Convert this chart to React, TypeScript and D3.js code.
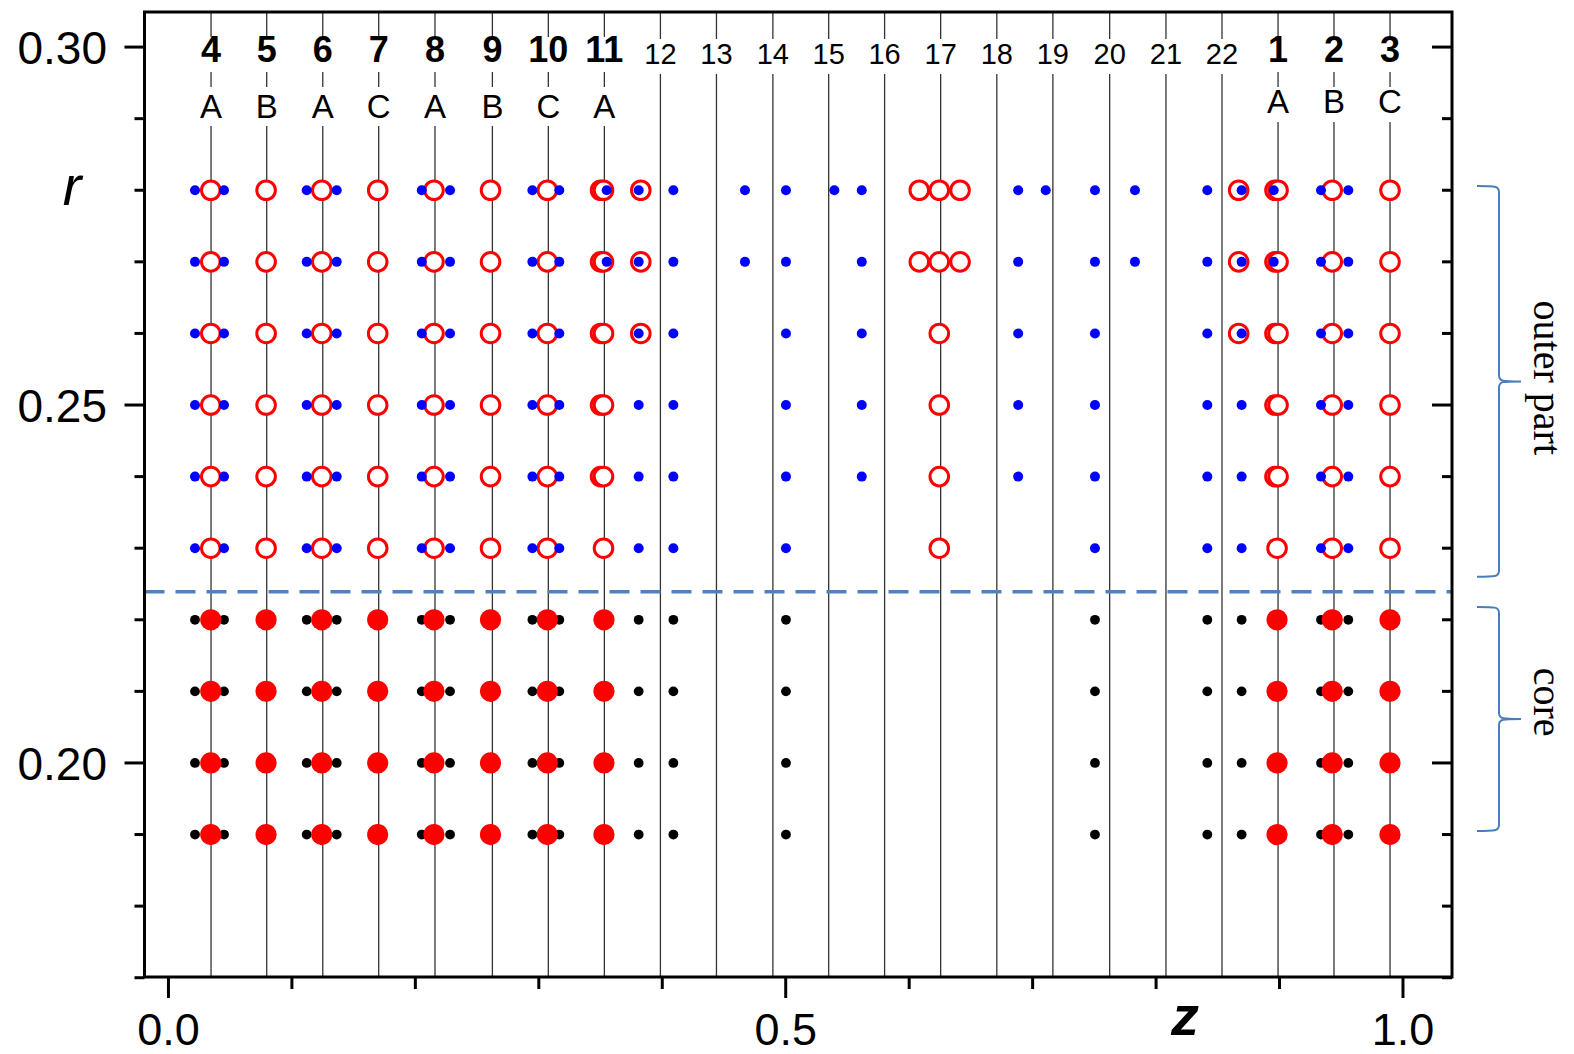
import React from 'react';
import * as d3 from 'd3';

const W = 1574;
const H = 1054;

// axis domains
const zDomain = [-0.0194, 1.0397];
const rDomain = [0.1701, 0.3049];

// tick values
const zMinorTicks = [0, 0.1, 0.2, 0.3, 0.4, 0.5, 0.6, 0.7, 0.8, 0.9, 1.0];
const zMajorTicks = [0, 0.5, 1.0];
const zTickLabels = ['0.0', '0.5', '1.0'];
const rMinorTicks = [0.17, 0.18, 0.19, 0.2, 0.21, 0.22, 0.23, 0.24, 0.25, 0.26, 0.27, 0.28, 0.29, 0.3];
const rMajorTicks = [0.2, 0.25, 0.3];
const rTickLabels = ['0.20', '0.25', '0.30'];

// vertical reference lines (cross-section planes)
const lineZ = [0.0345, 0.0796, 0.125, 0.1703, 0.2159, 0.2624, 0.3077, 0.3531, 0.3985, 0.4439, 0.4896,
  0.5348, 0.5801, 0.6255, 0.671, 0.7164, 0.7624, 0.808, 0.8534, 0.8988, 0.9441, 0.9895];
const lineNumbers = ['4', '5', '6', '7', '8', '9', '10', '11', '12', '13', '14', '15', '16', '17', '18',
  '19', '20', '21', '22', '1', '2', '3'];
const lineLetters = ['A', 'B', 'A', 'C', 'A', 'B', 'C', 'A', '', '', '', '', '', '', '', '', '', '', '', 'A', 'B', 'C'];

// rows
const outerR = [0.28, 0.27, 0.26, 0.25, 0.24, 0.23];
const coreR = [0.22, 0.21, 0.2, 0.19];

// blue dots (outer part)
const blueZ028 = [0.0215, 0.045, 0.112, 0.1363, 0.2052, 0.2281, 0.2948, 0.3166, 0.355, 0.3809, 0.409, 0.467,
  0.5002, 0.5394, 0.5616, 0.6883, 0.7106, 0.7505, 0.7829, 0.8415, 0.8693, 0.8953, 0.9336, 0.9557];
const blueZ027 = [0.0215, 0.045, 0.112, 0.1363, 0.2052, 0.2281, 0.2948, 0.3166, 0.355, 0.3809, 0.409, 0.467,
  0.5002, 0.5616, 0.6883, 0.7505, 0.7829, 0.8415, 0.8693, 0.8953, 0.9336, 0.9557];
const blueZ026 = [0.0215, 0.045, 0.112, 0.1363, 0.2052, 0.2281, 0.2948, 0.3166, 0.3809, 0.409, 0.5002, 0.5616,
  0.6883, 0.7505, 0.8415, 0.8693, 0.9336, 0.9557];
const blueZ025 = [0.0215, 0.045, 0.112, 0.1363, 0.2052, 0.2281, 0.2948, 0.3166, 0.3809, 0.409, 0.5002, 0.5616,
  0.6883, 0.7505, 0.8415, 0.8693, 0.9336, 0.9557];
const blueZ024 = [0.0215, 0.045, 0.112, 0.1363, 0.2052, 0.2281, 0.2948, 0.3166, 0.3809, 0.409, 0.5002, 0.5616,
  0.6883, 0.7505, 0.8415, 0.8693, 0.9336, 0.9557];
const blueZ023 = [0.0215, 0.045, 0.112, 0.1363, 0.2052, 0.2281, 0.2948, 0.3166, 0.3809, 0.409, 0.5002, 0.7505,
  0.8415, 0.8693, 0.9336, 0.9557];

// red open circles (outer part)
const openZ028 = [0.0343, 0.0791, 0.1242, 0.1695, 0.2151, 0.2609, 0.3069, 0.35, 0.3524, 0.3826, 0.6082, 0.6244,
  0.6412, 0.8669, 0.8963, 0.8988, 0.9427, 0.9895];
const openZ027 = [0.0343, 0.0791, 0.1242, 0.1695, 0.2151, 0.2609, 0.3069, 0.35, 0.3524, 0.3826, 0.6082, 0.6244,
  0.6412, 0.8669, 0.8963, 0.8988, 0.9427, 0.9895];
const openZ026 = [0.0343, 0.0791, 0.1242, 0.1695, 0.2151, 0.2609, 0.3069, 0.35, 0.3524, 0.3826, 0.6244, 0.8669,
  0.8963, 0.8988, 0.9427, 0.9895];
const openZ025 = [0.0343, 0.0791, 0.1242, 0.1695, 0.2151, 0.2609, 0.3069, 0.35, 0.3524, 0.6244, 0.8963, 0.8988,
  0.9427, 0.9895];
const openZ024 = [0.0343, 0.0791, 0.1242, 0.1695, 0.2151, 0.2609, 0.3069, 0.35, 0.3524, 0.6244, 0.8963, 0.8988,
  0.9427, 0.9895];
const openZ023 = [0.0343, 0.0791, 0.1242, 0.1695, 0.2151, 0.2609, 0.3069, 0.3524, 0.6244, 0.898, 0.9427, 0.9895];

// core
const coreBlackZ = [0.0215, 0.045, 0.112, 0.1363, 0.2052, 0.2281, 0.2948, 0.3166, 0.3809, 0.409, 0.5002, 0.7505,
  0.8415, 0.8693, 0.9336, 0.9557];
const coreFilledZ = [0.0343, 0.0791, 0.1242, 0.1695, 0.2151, 0.2609, 0.3069, 0.3528, 0.898, 0.9427, 0.9895];

// boundary & annotations
const boundaryR = 0.2239;
const outerBrace = [0.2806, 0.226];
const coreBrace = [0.2218, 0.1905];
const outerLabelR = 0.2538;
const coreLabelR = 0.2085;

const blueRows = [blueZ028, blueZ027, blueZ026, blueZ025, blueZ024, blueZ023];
const openRows = [openZ028, openZ027, openZ026, openZ025, openZ024, openZ023];

const SANS = '"Liberation Sans", Arial, sans-serif';
const SERIF = '"Liberation Serif", "Times New Roman", serif';

export default function App() {
  const left = 144.5, right = 1452, top = 12, bottom = 977;
  const x = d3.scaleLinear().domain(zDomain).range([left, right]);
  const y = d3.scaleLinear().domain(rDomain).range([bottom, top]);

  const bracePath = (r0: number, r1: number) => {
    const y0 = y(r0), y1 = y(r1), ym = (y0 + y1) / 2;
    const xe = 1477, xv = 1499, xt = 1521;
    return `M${xe},${y0} C${xv - 4},${y0} ${xv},${y0} ${xv},${y0 + 6} L${xv},${ym - 6} C${xv},${ym} ${xv + 4},${ym} ${xt},${ym}` +
      ` M${xt},${ym} C${xv + 4},${ym} ${xv},${ym} ${xv},${ym + 6} L${xv},${y1 - 6} C${xv},${y1} ${xv - 4},${y1} ${xe},${y1}`;
  };

  return (
    <svg width={W} height={H} style={{ position: 'absolute', left: 0, top: 0, background: '#fff' }}
      xmlns="http://www.w3.org/2000/svg">
      <rect x={0} y={0} width={W} height={H} fill="#fff" />
      {/* vertical lines */}
      {lineZ.map((z, i) => {
        const hasLetter = lineLetters[i] !== '';
        const segs = hasLetter
          ? [[top, 37], [72, 87], [i >= 19 ? 122 : 126, bottom]]
          : [[top, 39], [74, bottom]];
        return segs.map((s, j) => (
          <line key={`l${i}-${j}`} x1={x(z)} x2={x(z)} y1={s[0]} y2={s[1]} stroke="#333" strokeWidth={1.3} />
        ));
      })}
      {/* line labels */}
      {lineZ.map((z, i) => {
        const bold = lineLetters[i] !== '';
        return (
          <text key={`n${i}`} x={x(z)} y={bold ? 62 : 64} textAnchor="middle"
            fontFamily={SANS} fontSize={bold ? 36 : 29} fontWeight={bold ? 'bold' : 'normal'} fill="#000">
            {lineNumbers[i]}
          </text>
        );
      })}
      {lineZ.map((z, i) => lineLetters[i] ? (
        <text key={`a${i}`} x={x(z)} y={i >= 19 ? 113 : 118} textAnchor="middle"
          fontFamily={SANS} fontSize={33} fill="#000">{lineLetters[i]}</text>
      ) : null)}

      {/* boundary dashed line */}
      <line x1={left} x2={right} y1={y(boundaryR)} y2={y(boundaryR)} stroke="#4f81bd" strokeWidth={3.5}
        strokeDasharray="20 11" />

      {/* core: black dots then filled red */}
      {coreR.map((r, ri) => coreBlackZ.map((z, k) => (
        <circle key={`k${ri}-${k}`} cx={x(z)} cy={y(r)} r={4.9} fill="#000" />
      )))}
      {coreR.map((r, ri) => coreFilledZ.map((z, k) => (
        <circle key={`f${ri}-${k}`} cx={x(z)} cy={y(r)} r={10.6} fill="#ff0000" />
      )))}

      {/* outer: open red circles then blue dots */}
      {outerR.map((r, ri) => openRows[ri].map((z, k) => (
        <circle key={`o${ri}-${k}`} cx={x(z)} cy={y(r)} r={9.3} fill="#fff" stroke="#ff0000" strokeWidth={3} />
      )))}
      {outerR.map((r, ri) => blueRows[ri].map((z, k) => (
        <circle key={`b${ri}-${k}`} cx={x(z)} cy={y(r)} r={5} fill="#0000ff" />
      )))}

      {/* frame */}
      <rect x={left} y={top} width={right - left} height={bottom - top} fill="none" stroke="#000" strokeWidth={3} />

      {/* left ticks (outward) and right ticks (inward) */}
      {rMinorTicks.map((t, i) => {
        const major = rMajorTicks.some(m => Math.abs(m - t) < 1e-6);
        const len = major ? 20 : 10;
        return (
          <g key={`rt${i}`}>
            <line x1={left - len} x2={left} y1={y(t)} y2={y(t)} stroke="#000" strokeWidth={3} />
            <line x1={right - len} x2={right} y1={y(t)} y2={y(t)} stroke="#000" strokeWidth={3} />
          </g>
        );
      })}
      {rMajorTicks.map((t, i) => (
        <text key={`rl${i}`} x={107} y={y(t)} dy="0.36em" textAnchor="end" fontFamily={SANS} fontSize={46}
          fill="#000">{rTickLabels[i]}</text>
      ))}

      {/* bottom ticks */}
      {zMinorTicks.map((t, i) => {
        const major = zMajorTicks.some(m => Math.abs(m - t) < 1e-6);
        const len = major ? 21 : 12;
        return <line key={`zt${i}`} x1={x(t)} x2={x(t)} y1={bottom} y2={bottom + len} stroke="#000" strokeWidth={3} />;
      })}
      {zMajorTicks.map((t, i) => (
        <text key={`zl${i}`} x={x(t)} y={1045} textAnchor="middle" fontFamily={SANS} fontSize={45}
          fill="#000">{zTickLabels[i]}</text>
      ))}

      {/* axis titles */}
      <text x={72} y={205} textAnchor="middle" fontFamily={SANS} fontSize={56} fontStyle="italic" fill="#000">r</text>
      <text x={1185} y={1035} textAnchor="middle" fontFamily={SANS} fontSize={56} fontStyle="italic"
        fontWeight="bold" fill="#000">z</text>

      {/* braces and region labels */}
      <path d={bracePath(outerBrace[0], outerBrace[1])} fill="none" stroke="#4a7ebb" strokeWidth={2} />
      <path d={bracePath(coreBrace[0], coreBrace[1])} fill="none" stroke="#4a7ebb" strokeWidth={2} />
      <text transform={`translate(1546,${y(outerLabelR)}) rotate(90)`} textAnchor="middle" dy="0.3em"
        fontFamily={SERIF} fontSize={40} fill="#000">outer part</text>
      <text transform={`translate(1546,${y(coreLabelR)}) rotate(90)`} textAnchor="middle" dy="0.3em"
        fontFamily={SERIF} fontSize={40} fill="#000">core</text>
    </svg>
  );
}
